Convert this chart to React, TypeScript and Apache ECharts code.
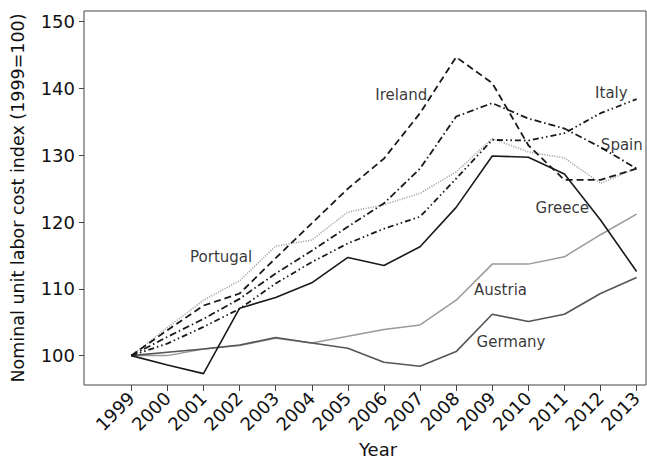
import React, { useEffect, useRef } from "react";
import * as echarts from "echarts";

const years = [1999, 2000, 2001, 2002, 2003, 2004, 2005, 2006, 2007, 2008, 2009, 2010, 2011, 2012, 2013];
const yTicks = [100, 110, 120, 130, 140, 150];

const greece = [100, 98.6, 97.3, 107.1, 108.7, 110.9, 114.7, 113.5, 116.3, 122.2, 129.9, 129.7, 127.2, 120.3, 112.6];
const germany = [100, 100.5, 101.0, 101.6, 102.7, 101.9, 101.1, 99.0, 98.4, 100.6, 106.2, 105.1, 106.2, 109.3, 111.7];
const austria = [100, 100.0, 101.0, 101.5, 102.6, 101.9, 102.9, 103.9, 104.6, 108.3, 113.7, 113.7, 114.8, 118.1, 121.2];
const portugal = [100, 104.2, 108.3, 111.2, 116.4, 117.3, 121.5, 122.6, 124.3, 127.5, 132.5, 130.5, 129.6, 125.8, 128.1];
const ireland = [100, 103.8, 107.5, 109.3, 114.6, 119.8, 125.0, 129.5, 136.3, 144.7, 140.8, 131.5, 126.3, 126.3, 128.0];
const spain = [100, 102.8, 105.5, 108.5, 112.3, 115.7, 119.3, 122.8, 128.0, 135.8, 137.8, 135.5, 134.0, 131.2, 128.0];
const italy = [100, 101.8, 104.3, 107.0, 110.8, 114.0, 116.8, 119.0, 120.8, 126.5, 132.3, 132.2, 133.3, 136.3, 138.4];

const labelNames = ["Ireland", "Italy", "Spain", "Greece", "Portugal", "Austria", "Germany"];
const labelX = [2006.48, 2012.3, 2012.59, 2010.94, 2001.49, 2009.23, 2009.52];
const labelY = [139.0, 139.3, 131.5, 122.07, 114.7, 109.84, 102.1];

const FONT = "DejaVu Sans";

function pairs(vals: number[]) {
  return years.map((y, i) => [y, vals[i]]);
}

function lineSeries(name: string, vals: number[], color: string, width: number, type: any) {
  return {
    name,
    type: "line",
    data: pairs(vals),
    symbol: "none",
    lineStyle: { color, width, type },
    z: 3,
  };
}

export default function App() {
  const ref = useRef<HTMLDivElement>(null);
  useEffect(() => {
    if (!ref.current) return;
    const chart = echarts.init(ref.current, undefined, { renderer: "svg" });
    chart.setOption({
      animation: false,
      backgroundColor: "#ffffff",
      grid: {
        left: 84,
        top: 11,
        right: 1,
        bottom: 74,
        show: true,
        borderColor: "#444",
        borderWidth: 1,
        containLabel: false,
        outerBoundsMode: "none",
      },
      xAxis: {
        type: "value",
        min: 1997.69,
        max: 2013.26,
        name: "Year",
        nameLocation: "middle",
        nameGap: 53,
        nameTextStyle: { fontFamily: FONT, fontSize: 18, color: "#111", padding: [0, 0, 0, 26] },
        axisLine: { show: false },
        splitLine: { show: false },
        axisTick: { show: true, length: 6, customValues: years, lineStyle: { color: "#444" } },
        axisLabel: {
          customValues: years,
          rotate: 45,
          margin: 10,
          fontFamily: FONT,
          fontSize: 18,
          color: "#111",
          formatter: (v: number) => String(Math.round(v)),
        },
      },
      yAxis: {
        type: "value",
        min: 95.6,
        max: 151.6,
        name: "Nominal unit labor cost index (1999=100)",
        nameLocation: "middle",
        nameGap: 57,
        nameTextStyle: { fontFamily: FONT, fontSize: 17.5, color: "#111" },
        axisLine: { show: false },
        splitLine: { show: false },
        axisTick: { show: true, length: 5, customValues: yTicks, lineStyle: { color: "#444" } },
        axisLabel: {
          customValues: yTicks,
          margin: 9,
          fontFamily: FONT,
          fontSize: 18,
          color: "#111",
          formatter: (v: number) => String(Math.round(v)),
        },
      },
      series: [
        lineSeries("Austria", austria, "#9a9a9a", 1.5, "solid"),
        lineSeries("Germany", germany, "#555555", 1.6, "solid"),
        lineSeries("Portugal", portugal, "#9a9a9a", 1.6, [1, 1.5]),
        lineSeries("Italy", italy, "#1a1a1a", 1.8, [6, 3, 1.5, 3, 1.5, 3]),
        lineSeries("Spain", spain, "#1a1a1a", 1.8, [7, 3, 1.5, 3]),
        lineSeries("Ireland", ireland, "#1a1a1a", 1.8, [7, 4]),
        lineSeries("Greece", greece, "#1a1a1a", 1.6, "solid"),
        {
          name: "labels",
          type: "scatter",
          symbolSize: 0,
          data: labelNames.map((n, i) => ({ value: [labelX[i], labelY[i]], name: n })),
          label: {
            show: true,
            position: "inside",
            formatter: (p: any) => p.name,
            fontFamily: FONT,
            fontSize: 15,
            color: "#000",
          },
          z: 5,
        },
      ],
    });
    return () => chart.dispose();
  }, []);
  return (
    <div
      ref={ref}
      style={{ position: "fixed", left: 0, top: 0, width: 647, height: 459, background: "#fff" }}
    />
  );
}
